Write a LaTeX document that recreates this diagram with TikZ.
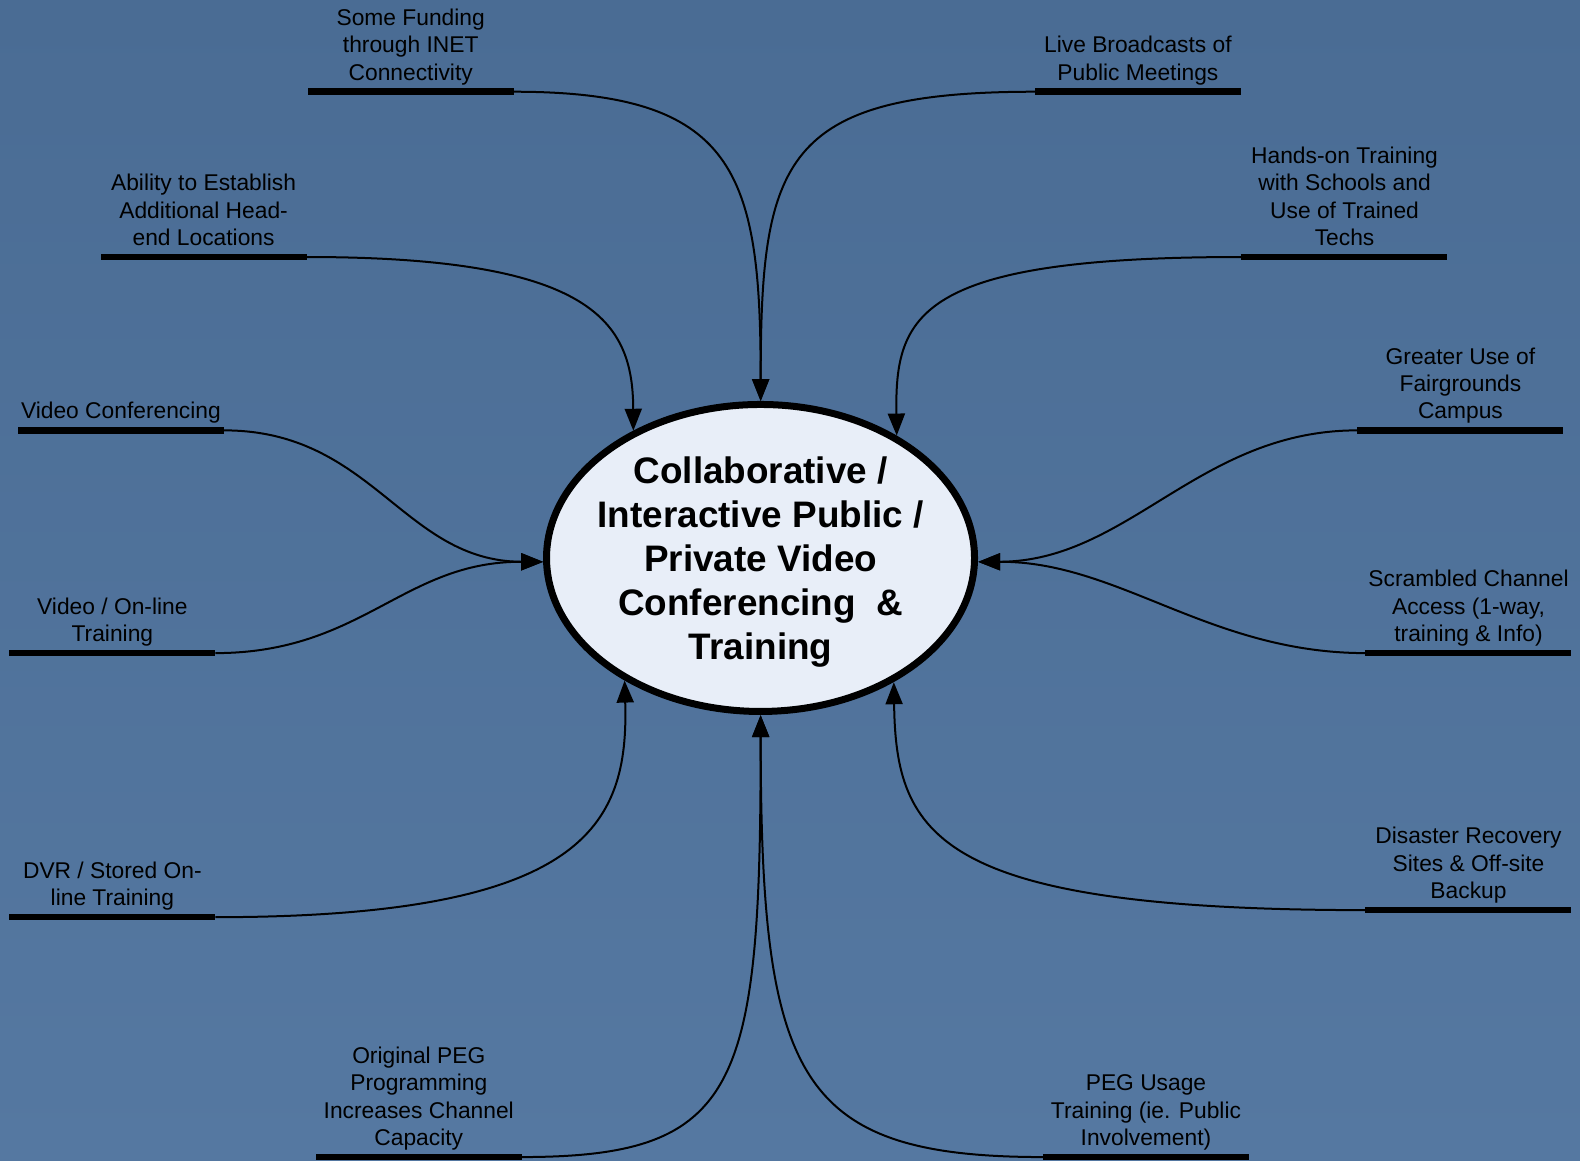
\documentclass[tikz,border=0pt]{standalone}
\usepackage{fontspec}
\setmainfont{Liberation Sans}
\usetikzlibrary{arrows.meta,shapes.geometric}
\definecolor{bgtop}{RGB}{74,108,148}
\definecolor{bgmid}{RGB}{90,126,167}
\definecolor{bgbot}{RGB}{85,120,161}
\definecolor{cfill}{RGB}{232,238,248}
\begin{document}
\begin{tikzpicture}[x=0.5pt,y=-0.5pt,
  bar/.style={rectangle, fill=black, draw=none, inner sep=0pt, outer sep=0pt, minimum width=103pt, minimum height=3.3pt},
  lab/.style={anchor=south, inner sep=0pt, align=center, text depth=4pt, font=\fontsize{11.4}{13.65}\selectfont},
  link/.style={line width=1pt, -{Triangle[length=11pt,width=8.5pt]}},
]
\shade[top color=bgtop, middle color=bgmid, bottom color=bgbot] (0,0) rectangle (1580,1161);
\useasboundingbox (0,0) rectangle (1580,1161);

\begin{scope}[scale=1.0077]
% centre
\node[ellipse, draw, line width=3.5pt, fill=cfill, minimum width=214pt, minimum height=153.5pt, inner sep=0pt] (c) at (754.7,553.7) {};
\node[align=center, inner sep=0pt, text depth=0pt, font=\bfseries\fontsize{18.44}{22.1}\selectfont] (ct) at (c.center)
  {Collaborative /\\Interactive Public /\\Private Video\\Conferencing\ \ \&\\Training};

% bars
\node[bar] (b1) at (407.5,91) {};
\node[bar] (b2) at (1129,91) {};
\node[bar] (b3) at (202,255) {};
\node[bar] (b4) at (1334,255) {};
\node[bar] (b5) at (120,427) {};
\node[bar] (b6) at (1449,427) {};
\node[bar] (b7) at (111.5,648) {};
\node[bar] (b8) at (1457,648) {};
\node[bar] (b9) at (111.5,910) {};
\node[bar] (b10) at (1457,903) {};
\node[bar] (b11) at (415.5,1148) {};
\node[bar] (b12) at (1137,1148) {};

% labels
\node[lab] (l1) at (b1.north) {Some Funding\\through INET\\Connectivity};
\node[lab] (l2) at (b2.north) {Live Broadcasts of\\Public Meetings};
\node[lab] (l3) at (b3.north) {Ability to Establish\\Additional Head-\\end Locations};
\node[lab] (l4) at (b4.north) {Hands-on Training\\with Schools and\\Use of Trained\\Techs};
\node[lab] (l5) at (b5.north) {Video Conferencing};
\node[lab] (l6) at (b6.north) {Greater Use of\\Fairgrounds\\Campus};
\node[lab] (l7) at (b7.north) {Video / On-line\\Training};
\node[lab] (l8) at (b8.north) {Scrambled Channel\\Access (1-way,\\training \& Info)};
\node[lab] (l9) at (b9.north) {DVR / Stored On-\\line Training};
\node[lab] (l10) at (b10.north) {Disaster Recovery\\Sites \& Off-site\\Backup};
\node[lab] (l11) at (b11.north) {Original PEG\\Programming\\Increases Channel\\Capacity};
\node[lab] (l12) at (b12.north) {PEG Usage\\Training (ie. Public\\Involvement)};

% connectors
\draw[link] (b1.east) .. controls (730,91) and (755,170) .. (c.north);
\draw[link] (b2.west) .. controls (775,91) and (755,160) .. (c.north);
\draw[link] (b3.east) .. controls (590,255) and (628,320) .. (c.135.8);
\draw[link] (b4.west) .. controls (910,255) and (888,312) .. (c.42.5);
\draw[link] (b5.east) .. controls (370,427) and (400,557) .. (c.181);
\draw[link] (b7.east) .. controls (360,648) and (400,557) .. (c.181);
\draw[link] (b6.west) .. controls (1190,427) and (1120,557) .. (c.-1);
\draw[link] (b8.west) .. controls (1200,648) and (1110,557) .. (c.-1);
\draw[link] (b9.east) .. controls (580,910) and (624,820) .. (c.222.9);
\draw[link] (b10.west) .. controls (930,903) and (889,830) .. (c.317.8);
\draw[link] (b11.east) .. controls (735,1148) and (755,1080) .. (c.south);
\draw[link] (b12.west) .. controls (790,1148) and (755,1070) .. (c.south);
\end{scope}
\end{tikzpicture}
\end{document}
